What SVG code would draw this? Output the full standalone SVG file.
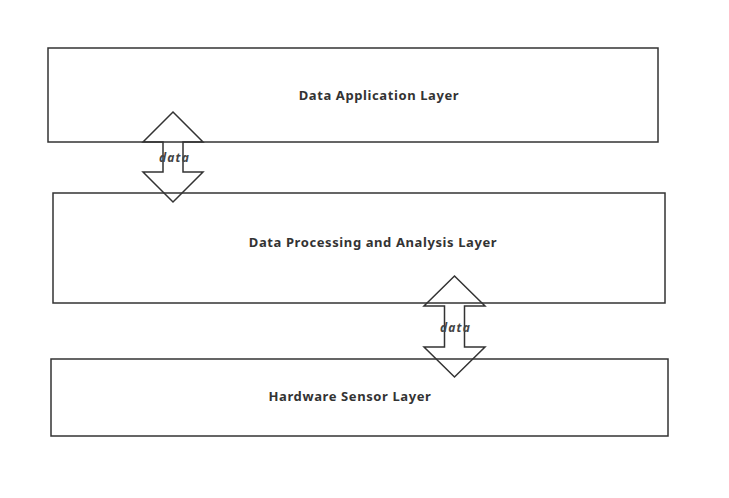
<svg xmlns="http://www.w3.org/2000/svg" width="729" height="498" viewBox="0 0 729 498">
<style>
.box{fill:none;stroke:#333;stroke-width:1.5}
.arr{fill:none;stroke:#333;stroke-width:1.5;stroke-linejoin:miter}
.lbl{font-family:"Noto Sans","Open Sans",sans-serif;font-weight:bold;font-size:13px;letter-spacing:0.6px;fill:#333;text-anchor:middle}
.dl{font-family:"Noto Sans","Open Sans",sans-serif;font-weight:bold;font-style:italic;font-size:12px;letter-spacing:1.2px;fill:#444;text-anchor:middle}
</style>
<rect width="729" height="498" fill="#fff"/>
<g id="app">
<rect class="box" x="48" y="48" width="610" height="94"/>
<text class="lbl" x="379" y="99.5">Data Application Layer</text>
</g>
<g id="proc">
<rect class="box" x="53" y="193" width="612" height="110"/>
<text class="lbl" x="373" y="246.5">Data Processing and Analysis Layer</text>
</g>
<g id="hw">
<rect class="box" x="51" y="359" width="617" height="77"/>
<text class="lbl" x="350" y="400.5">Hardware Sensor Layer</text>
</g>
<g id="connectors">
<path class="arr" d="M173,112 L203,142 L183,142 L183,172 L203,172 L173,202 L143,172 L163,172 L163,142 L143,142 Z"/>
<text class="dl" x="174.5" y="161.5">data</text>
<path class="arr" d="M454.5,276 L485,306 L464.5,306 L464.5,347 L485,347 L454.5,377 L424,347 L444.5,347 L444.5,306 L424,306 Z"/>
<text class="dl" x="455.5" y="331.5">data</text>
</g>
</svg>
